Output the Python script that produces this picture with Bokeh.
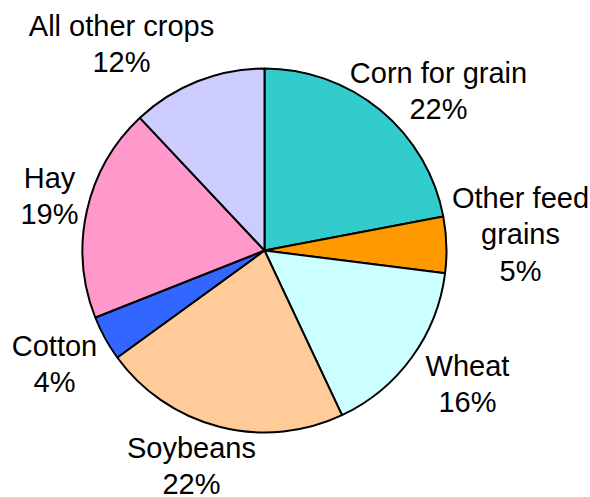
import math
from bokeh.plotting import figure
from bokeh.models import ColumnDataSource, Range1d
from bokeh.core.properties import value
from bokeh.embed import file_html
from bokeh.resources import INLINE

# Share of harvested cropland, clockwise from 12 o'clock
crops = ["Corn for grain", "Other feed grains", "Wheat", "Soybeans",
         "Cotton", "Hay", "All other crops"]
shares = [22, 5, 16, 22, 4, 19, 12]
colors = ["#33CCCC", "#FF9900", "#CCFFFF", "#FFCC99",
          "#3366FF", "#FF99CC", "#CCCCFF"]

# Label text broken into lines, and where each label block sits (page pixels
# from the top-left: horizontal centre, baseline of first line)
label_lines = [["Corn for grain"], ["Other feed", "grains"], ["Wheat"],
               ["Soybeans"], ["Cotton"], ["Hay"], ["All other crops"]]
label_anchor = [(438, 72), (520, 197), (467, 365), (191, 447),
                (54, 345), (49, 177), (121, 25)]

W, H = 590, 497
CX, CY, R = 264, 250, 182
LINE_STEP = 36.5
FONT = "Liberation Sans"

p = figure(width=W, height=H, output_backend="svg", toolbar_location=None,
           x_range=Range1d(0, W), y_range=Range1d(0, H),
           min_border=0, outline_line_color=None)
p.axis.visible = False
p.grid.visible = False
p.background_fill_color = "white"
p.border_fill_color = "white"

# Slices run clockwise from 12 o'clock; each wedge is drawn anticlockwise
# from its end angle back to its start angle.
total = float(sum(shares))
starts, ends = [], []
acc = 0.0
for s in shares:
    a_first = math.pi / 2 - 2 * math.pi * acc / total
    acc += s
    a_last = math.pi / 2 - 2 * math.pi * acc / total
    starts.append(a_last)
    ends.append(a_first)

src = ColumnDataSource(dict(x=[CX] * len(shares), y=[H - CY] * len(shares),
                            start=starts, end=ends, color=colors))
p.wedge(x="x", y="y", radius=R, radius_units="screen",
        start_angle="start", end_angle="end", direction="anticlock",
        fill_color="color", line_color="black", line_width=2, source=src)

tx, ty, tt = [], [], []
for lines, share, (ax, ay) in zip(label_lines, shares, label_anchor):
    for i, t in enumerate(lines + [f"{share}%"]):
        tx.append(ax)
        ty.append(H - (ay + i * LINE_STEP))
        tt.append(t)

p.text(x=tx, y=ty, text=tt, text_align="center", text_baseline="alphabetic",
       text_font=value(FONT), text_font_size="29px", text_color="black")

open("out.html", "w").write(file_html(p, INLINE))
